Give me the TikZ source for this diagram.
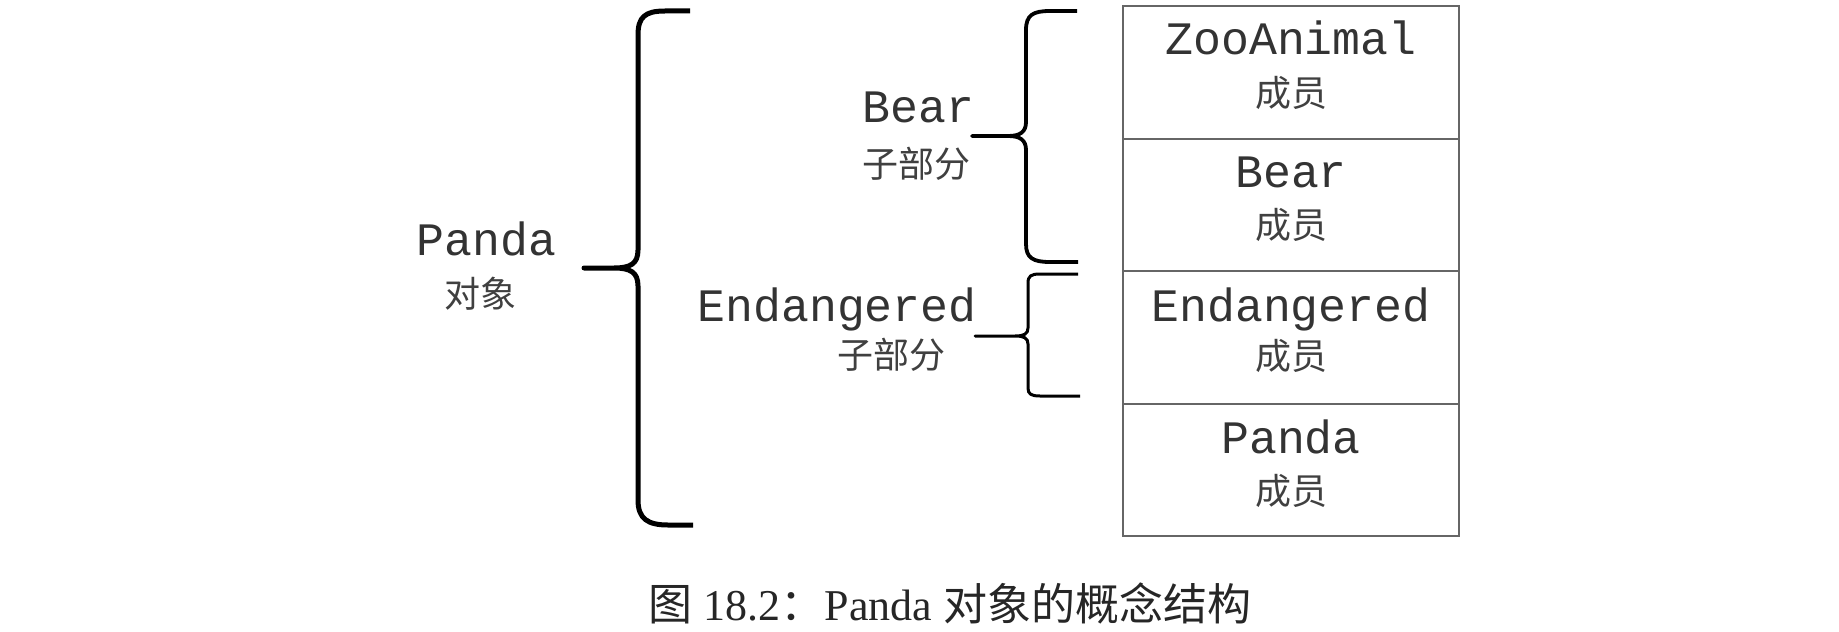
\documentclass[tikz,border=0pt]{standalone}
\usepackage{fontspec}
\setmainfont{Liberation Serif}
\setmonofont{Liberation Mono}
\newfontfamily\cjk{Noto Sans CJK SC}
\begin{document}
\begin{tikzpicture}[x=0.5pt,y=-0.5pt,
  monolbl/.style={inner sep=0pt,text=black!80,font=\fontsize{23.25}{26}\selectfont\ttfamily},
  cjklbl/.style={inner sep=0pt,text=black!75,font=\fontsize{18}{20}\selectfont\cjk},
  cell/.style={draw=black!60,line width=1pt,minimum width=168pt,minimum height=66.25pt,inner sep=0pt,anchor=north},
  bigbrace/.style={draw=black,line width=2.5pt,line join=round},
  midbrace/.style={draw=black,line width=1.9pt,line join=round},
  smallbrace/.style={draw=black,line width=1.5pt,line join=round},
  caption/.style={inner sep=0pt,text=black!85,font=\fontsize{22}{24}\selectfont}]
\path[use as bounding box] (0,0) rectangle (1839,631);

% cells
\node[cell] (c1) at (1291,5) {};
\node[cell] (c2) at (1291,137.5) {};
\node[cell] (c3) at (1291,270) {};
\node[cell] (c4) at (1291,402.5) {};

\node[monolbl,anchor=base] (t1) at ([yshift=-24.75pt]c1.north) {ZooAnimal};
\node[cjklbl,anchor=base] (m1) at ([yshift=-50.5pt]c1.north) {成员};
\node[monolbl,anchor=base] (t2) at ([yshift=-24.75pt]c2.north) {Bear};
\node[cjklbl,anchor=base] (m2) at ([yshift=-50.5pt]c2.north) {成员};
\node[monolbl,anchor=base] (t3) at ([yshift=-25.5pt]c3.north) {Endangered};
\node[cjklbl,anchor=base] (m3) at ([yshift=-49.5pt]c3.north) {成员};
\node[monolbl,anchor=base] (t4) at ([yshift=-25.5pt]c4.north) {Panda};
\node[cjklbl,anchor=base] (m4) at ([yshift=-51pt]c4.north) {成员};

% left labels
\node[monolbl,anchor=base] (pa) at (486.5,255) {Panda};
\node[cjklbl,anchor=base] (pb) at (480,307) {对象};
\node[monolbl,anchor=base east] (ba) at (975,122) {Bear};
\node[cjklbl,anchor=base] (bb) at (916,177) {子部分};
\node[monolbl,anchor=base east] (ea) at (977,321) {Endangered};
\node[cjklbl,anchor=base] (eb) at (891,368) {子部分};

% big brace
\coordinate (Bt) at (690,11);
\coordinate (Btip) at (584,268);
\coordinate (Bb) at (693,525);
\draw[bigbrace] (Bt) -- (665,11) .. controls (645,11) and (638,17) .. (638,35)
  -- (638,250) .. controls (638,264) and (630,268) .. (614,268) -- (Btip)
  -- (614,268) .. controls (630,268) and (638,272) .. (638,286)
  -- (638,500) .. controls (638,519) and (648,525) .. (668,525) -- (Bb);

% Bear brace
\coordinate (Rt) at (1077,11);
\coordinate (Rtip) at (972,136);
\coordinate (Rb) at (1078,262);
\draw[midbrace] (Rt) -- (1050,11) .. controls (1033,11) and (1026,15) .. (1026,30)
  -- (1026,122) .. controls (1026,132) and (1020,136) .. (1008,136) -- (Rtip)
  -- (1008,136) .. controls (1020,136) and (1026,140) .. (1026,150)
  -- (1026,244) .. controls (1026,258) and (1033,262) .. (1050,262) -- (Rb);

% Endangered brace
\coordinate (Et) at (1078,274);
\coordinate (Etip) at (975,336);
\coordinate (Eb) at (1080,396);
\draw[smallbrace] (Et) -- (1040,274) .. controls (1031,274) and (1028,276) .. (1028,283)
  -- (1028,328) .. controls (1028,334) and (1024,336) .. (1015,336) -- (Etip)
  -- (1015,336) .. controls (1024,336) and (1028,338) .. (1028,344)
  -- (1028,388) .. controls (1028,394) and (1031,396) .. (1040,396) -- (Eb);

% caption
\node[caption,anchor=base] (cap) at (950,620) {{\cjk 图} 18.2{\cjk ：}Panda {\cjk 对象的概念结构}};
\end{tikzpicture}
\end{document}
